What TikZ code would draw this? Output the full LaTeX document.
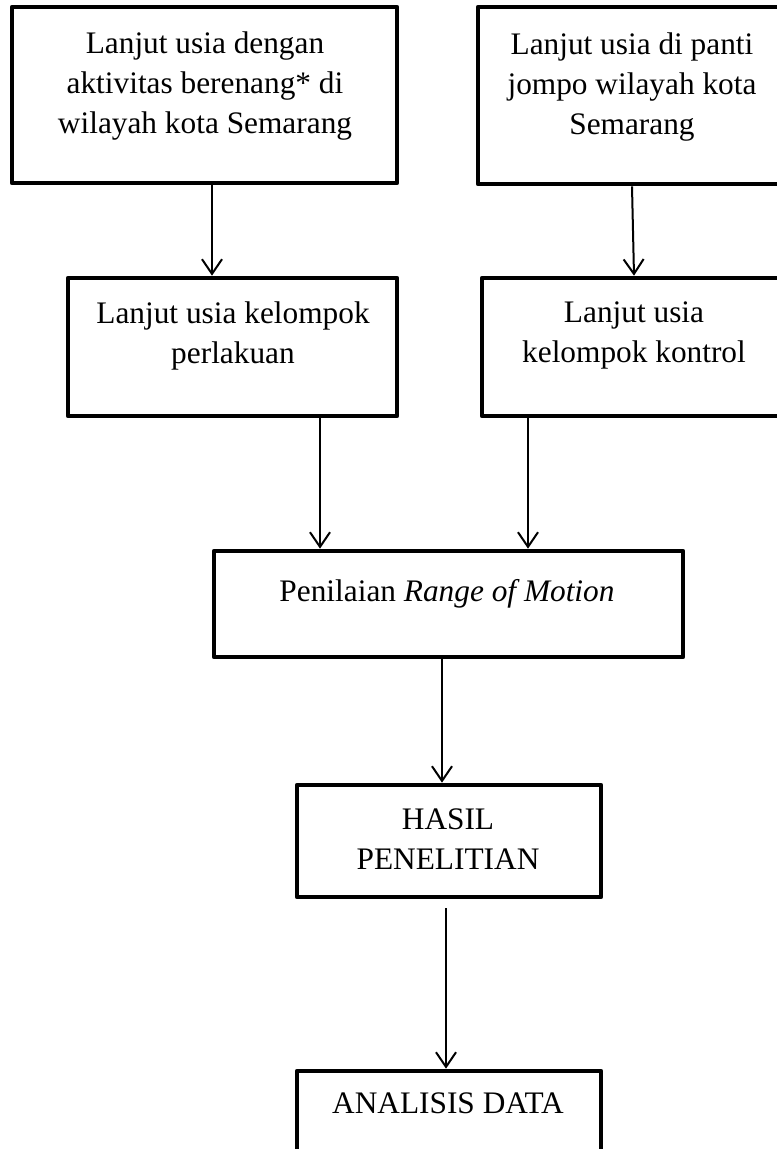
\documentclass[tikz,border=0pt]{standalone}
\usepackage{fontspec}
\setmainfont{Liberation Serif}
\usetikzlibrary{arrows.meta,calc}
\tikzset{
  box/.style={draw, line width=3.5pt, line join=round, rectangle, inner sep=0pt, fill=none},
  txt/.style={anchor=north, inner sep=0pt, align=center, font=\fontsize{23.5}{30}\selectfont},
  arr/.style={line width=1.5pt, -{Straight Barb[length=11pt,width=15pt,line width=1.5pt]}}
}
\begin{document}
\begin{tikzpicture}[x=0.75pt, y=-0.75pt]
\useasboundingbox (0,0) rectangle (777,1149);
\fill[white] (0,0) rectangle (777,1149);
\clip (0,0) rectangle (777,1149);
% boxes
\node[box, minimum width=385*0.75pt, minimum height=176*0.75pt] (b1) at (204.5,95) {};
\node[box, minimum width=310*0.75pt, minimum height=177*0.75pt] (b2) at (633,95.5) {};
\node[box, minimum width=329*0.75pt, minimum height=138*0.75pt] (b3) at (232.5,347) {};
\node[box, minimum width=306*0.75pt, minimum height=138*0.75pt] (b4) at (635,347) {};
\node[box, minimum width=469*0.75pt, minimum height=106*0.75pt] (b5) at (448.5,604) {};
\node[box, minimum width=304*0.75pt, minimum height=112*0.75pt] (b6) at (449,841) {};
\node[box, minimum width=304*0.75pt, minimum height=99*0.75pt] (b7) at (449,1120.5) {};
% texts
\node[txt] (t1) at (205,31) {Lanjut usia dengan\\aktivitas berenang* di\\wilayah kota Semarang};
\node[txt] (t2) at (632,32) {Lanjut usia di panti\\jompo wilayah kota\\Semarang};
\node[txt] (t3) at (233,301) {Lanjut usia kelompok\\perlakuan};
\node[txt] (t4) at (634,301) {Lanjut usia\\kelompok kontrol};
\node[txt] (t5) at (447,579) {Penilaian \textit{Range of Motion}};
\node[txt] (t6) at (448,808) {HASIL\\PENELITIAN};
\node[txt] (t7) at (448,1092) {ANALISIS DATA};
% arrows
\draw[arr] ($(b1.south)+(7.5,0)$) -- ($(b3.north)+(-20.5,0)$);
\draw[arr] ($(b2.south)+(-1,0)$) -- ($(b4.north)+(-1,0)$);
\draw[arr] ($(b3.south)+(87.5,0)$) -- ($(b5.north)+(-128.5,0)$);
\draw[arr] ($(b4.south)+(-107,0)$) -- ($(b5.north)+(79.5,0)$);
\draw[arr] ($(b5.south)+(-6.5,0)$) -- ($(b6.north)+(-7,0)$);
\coordinate (s6) at ($(b6.south)+(-3,9)$);
\draw[arr] (s6) -- ($(b7.north)+(-3,0)$);
\end{tikzpicture}
\end{document}
